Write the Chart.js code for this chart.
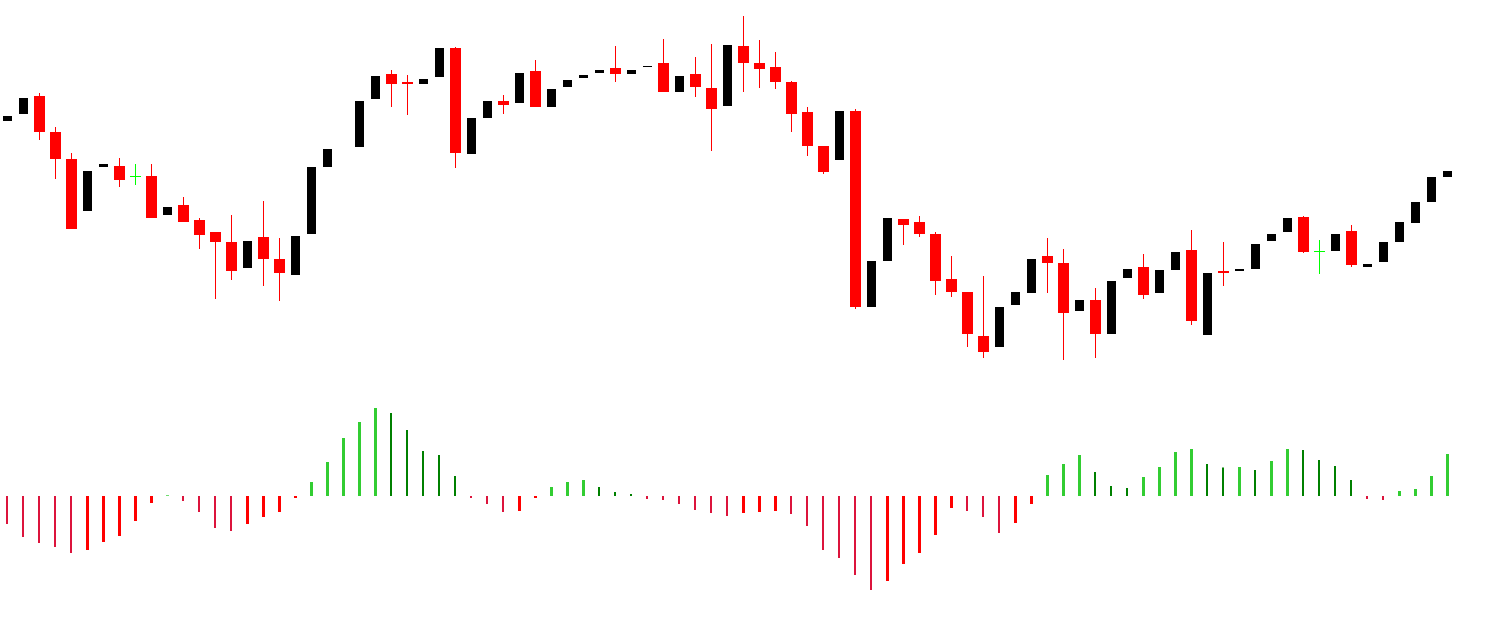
<!DOCTYPE html>
<html><head><meta charset="utf-8">
<script src="https://cdn.jsdelivr.net/npm/chart.js@4.4.1/dist/chart.umd.min.js"></script>
<style>html,body{margin:0;padding:0;background:#fff;overflow:hidden}canvas{display:block}</style>
</head><body>
<canvas id="c" width="1510" height="622"></canvas>
<script>
// ---- price bars (null = no bar drawn) ----
const openP = [187.9,188.6,190.4,186.8,184.1,178.9,183.3,183.4,182.3,182.4,
178.5,179.5,178.0,176.8,175.8,173.2,176.3,174.1,172.5,176.6,
183.3,null,185.3,190.1,192.6,191.8,191.6,192.3,195.2,184.6,
188.2,189.9,189.7,192.9,189.3,191.3,192.2,192.7,193.2,192.6,
193.3,193.7,190.8,192.6,191.2,189.4,195.4,193.7,193.3,191.8,
188.8,185.4,184.0,188.9,169.3,173.9,178.1,177.8,176.6,172.1,
170.8,166.4,165.3,169.5,170.7,174.4,173.7,168.9,170.0,166.6,
172.2,173.3,170.7,173.0,175.0,166.5,172.9,172.9,173.1,175.9,
176.8,178.3,174.8,174.9,176.9,173.3,173.8,175.8,177.7,179.8,182.3];
const highP = [188.4,190.2,190.7,187.3,184.7,182.9,183.6,184.2,183.6,183.6,
179.3,180.3,178.2,176.8,178.5,175.9,179.9,176.2,176.4,183.3,
185.1,null,189.9,192.4,193.0,192.5,192.1,195.2,195.3,188.2,
189.9,190.5,192.7,194.0,191.1,192.0,192.5,193.0,195.4,193.0,
193.4,196.1,192.4,194.3,195.6,195.5,198.4,196.0,194.8,191.9,
189.3,185.4,188.9,189.1,173.9,178.2,178.1,178.4,176.8,174.4,
170.8,172.4,169.3,170.8,174.1,176.2,175.1,170.0,171.2,171.9,
173.1,174.6,173.0,174.8,177.0,172.7,175.8,173.1,175.6,176.6,
178.2,178.4,176.0,176.6,177.5,173.6,175.8,177.8,179.8,182.3,182.9];
const lowP = [187.9,188.6,186.0,182.1,177.1,178.9,183.3,181.3,181.5,178.2,
178.5,177.8,175.1,170.1,172.0,173.2,171.4,169.9,172.5,176.6,
183.3,null,185.3,190.1,189.3,188.5,191.6,192.3,183.2,184.6,
188.2,188.6,189.7,189.3,189.3,191.3,192.2,192.7,191.8,192.6,
193.3,190.8,190.8,190.3,184.9,189.4,190.8,191.2,191.1,186.8,
184.4,182.6,184.0,169.1,169.3,173.9,175.5,176.3,170.5,170.3,
165.3,164.2,165.3,169.5,170.7,170.7,164.0,168.9,164.2,166.6,
172.2,170.1,170.7,173.0,167.5,166.5,171.4,172.9,173.1,175.9,
176.8,174.7,172.6,174.9,173.3,173.3,173.8,175.8,177.7,179.8,182.3];
const closeP = [188.4,190.2,186.8,184.1,177.1,182.9,183.6,182.0,182.3,178.2,
179.3,177.8,176.5,175.8,172.9,175.9,174.1,172.7,176.4,183.3,
185.1,null,189.9,192.4,191.6,191.6,192.1,195.2,184.7,188.2,
189.9,189.5,192.7,189.3,191.1,192.0,192.5,193.0,192.6,193.0,
193.4,190.8,192.4,191.3,189.1,195.5,193.7,193.1,191.8,188.6,
185.4,182.8,188.9,169.3,173.9,178.2,177.5,176.6,171.9,170.8,
166.6,164.8,169.3,170.8,174.1,173.7,168.7,170.0,166.6,171.9,
173.1,170.5,173.0,174.8,167.9,172.7,172.7,173.1,175.6,176.6,
178.2,174.8,174.8,176.6,173.5,173.6,175.8,177.8,179.8,182.3,182.9];
// ---- oscillator histogram ----
const histV = [-2.8,-4.1,-4.7,-5.1,-5.7,-5.4,-4.6,-4.0,-2.5,-0.7,
0.07,-0.5,-1.6,-3.2,-3.5,-2.8,-2.1,-1.6,-0.2,1.4,
3.4,5.8,7.4,8.8,8.3,6.6,4.5,4.1,2.0,-0.2,
-0.8,-1.6,-1.5,-0.2,0.9,1.4,1.6,0.9,0.4,0.2,
-0.3,-0.4,-0.8,-1.4,-1.7,-2.0,-1.7,-1.6,-1.5,-1.8,
-3.0,-5.4,-6.2,-7.9,-9.4,-8.5,-6.8,-5.7,-3.9,-1.2,
-1.5,-2.1,-3.7,-2.7,-0.8,2.1,3.2,4.1,2.4,1.0,
0.8,1.9,2.9,4.4,4.7,3.2,2.85,2.9,2.6,3.5,
4.7,4.6,3.6,3.0,1.6,-0.3,-0.4,0.5,0.7,2.0,4.2];

const N = histV.length;
const xMin = -7.5/16, xMax = (1510-7.5)/16;

const bearBodies=[], bullBodies=[], dojiBodies=[], wicks=[];
for (let i=0;i<N;i++){
  if (openP[i]===null) continue;
  wicks.push({x:i, y:[lowP[i], highP[i]]});
  if (closeP[i] < openP[i]) bearBodies.push({x:i, y:[openP[i], closeP[i]]});
  else if (closeP[i] > openP[i]) bullBodies.push({x:i, y:[openP[i], closeP[i]]});
  else dojiBodies.push({x:i, y:[openP[i], closeP[i]]});
}
const rising = histV.map((v,i)=> i>0 && v > histV[i-1]);
const histRise=[], histFall=[];
histV.forEach((v,i)=>{ (rising[i]?histRise:histFall).push({x:i,y:v}); });

function candleColor(i){
  if (closeP[i] < openP[i]) return '#FF0000';
  if (closeP[i] > openP[i]) return '#000000';
  return '#00FF00';
}
const common = {grouped:false, barPercentage:1, categoryPercentage:1, inflateAmount:0, borderWidth:0};

new Chart(document.getElementById('c'), {
  type:'bar',
  data:{datasets:[
    Object.assign({label:'bear', data:bearBodies, backgroundColor:'#FF0000', maxBarThickness:11, yAxisID:'y', xAxisID:'x', order:1}, common),
    Object.assign({label:'bull', data:bullBodies, backgroundColor:'#000000', maxBarThickness:9, yAxisID:'y', xAxisID:'x', order:1}, common),
    Object.assign({label:'doji', data:dojiBodies, backgroundColor:'#00FF00', maxBarThickness:11, minBarLength:1, yAxisID:'y', xAxisID:'x', order:1}, common),
    Object.assign({label:'wick', data:wicks, backgroundColor:ctx=>candleColor(ctx.raw.x), maxBarThickness:1, yAxisID:'y', xAxisID:'x', order:2}, common),
    Object.assign({label:'histRise', data:histRise, backgroundColor:ctx=>ctx.raw.y>=0?'#32CD32':'#FF0000', maxBarThickness:3, yAxisID:'y2', xAxisID:'x', order:3}, common),
    Object.assign({label:'histFall', data:histFall, backgroundColor:ctx=>ctx.raw.y>=0?'#008000':'#DC143C', maxBarThickness:2, yAxisID:'y2', xAxisID:'x2', order:3}, common)
  ]},
  options:{
    responsive:false, animation:false, devicePixelRatio:1,
    layout:{padding:0},
    plugins:{legend:{display:false}, tooltip:{enabled:false}},
    scales:{
      x:{type:'linear', display:false, min:xMin, max:xMax, offset:false},
      x2:{type:'linear', display:false, min:xMin+0.5/16, max:xMax+0.5/16, offset:false},
      y:{type:'linear', display:false, min:137.8, max:200},
      y2:{type:'linear', display:false, min:-12.6, max:49.6}
    }
  }
});
</script>
</body></html>
